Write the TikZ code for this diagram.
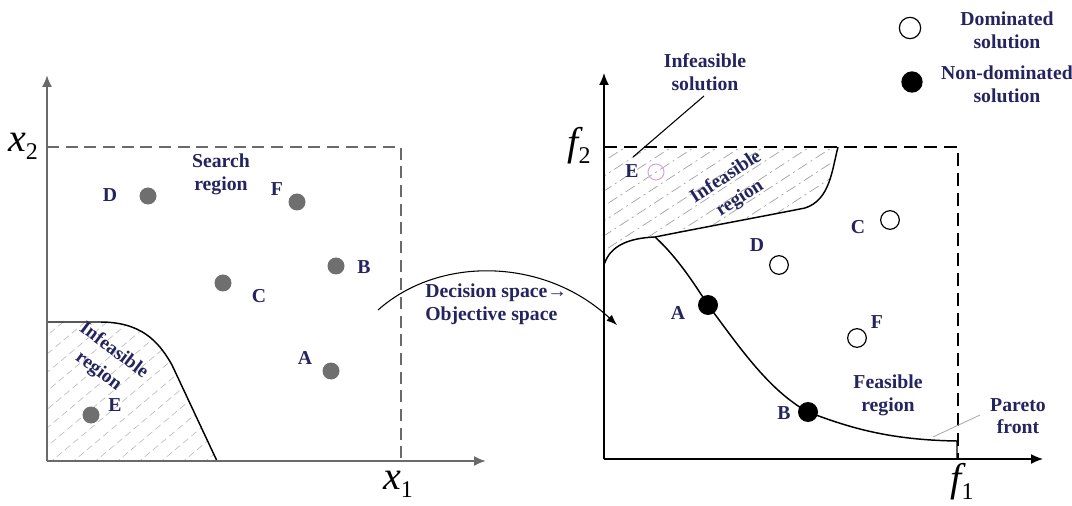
\documentclass[tikz,border=0pt]{standalone}
\usepackage{fontspec}
\setmainfont{Liberation Serif}
\usetikzlibrary{arrows.meta}
\definecolor{navy}{HTML}{24245E}
\definecolor{dotgray}{HTML}{6F6F6F}
\definecolor{axgray}{HTML}{6A6A6A}
\definecolor{pinkc}{HTML}{D8A6E2}
\newcommand{\axl}[2]{{\fontsize{30}{30}\selectfont\itshape #1}\raisebox{-6pt}{\fontsize{18}{18}\selectfont #2}}
\begin{document}
\begin{tikzpicture}[x=0.75pt,y=-0.75pt,
  lbl/.style={font=\fontsize{14.8}{17}\selectfont\bfseries, text=navy, inner sep=0pt, align=center},
  rlbl/.style={font=\fontsize{14.5}{19}\selectfont\bfseries, text=navy, inner sep=0pt, align=center},
  axlab/.style={inner sep=0pt, text=black},
  gdot/.style={circle, fill=dotgray, minimum size=12.75pt, inner sep=0pt},
  odot/.style={circle, draw=black, line width=0.9pt, fill=white, minimum size=14pt, inner sep=0pt},
  bdot/.style={circle, fill=black, minimum size=15pt, inner sep=0pt},
  axisL/.style={draw=axgray, line width=1.5pt, -{Latex[length=9pt,width=7.5pt]}},
  axisR/.style={draw=black, line width=1.1pt, -{Latex[length=9pt,width=7.5pt]}},
  dashL/.style={draw=axgray, line width=1.2pt, dash pattern=on 9pt off 5pt},
  dashR/.style={draw=black, line width=1pt, dash pattern=on 10pt off 5pt},
  hatchL/.style={draw=gray!55, line width=0.45pt, dash pattern=on 5pt off 3pt},
  hatchR/.style={draw=gray!70, line width=0.55pt, dash pattern=on 8pt off 3pt on 1.5pt off 3pt},
  bound/.style={draw=black, line width=1.1pt},
  thinline/.style={draw=black, line width=0.8pt},
]
\useasboundingbox (0,0) rectangle (1072,506);

% ---------------- left panel ----------------
\begin{scope}
\clip (47,461) -- (47,322) -- (100,322) .. controls (140,322) and (158,340) .. (172,365) -- (217,461) -- cycle;
\foreach \i in {0,...,18} \draw[hatchL] (-160+\i*22, 491) -- ++(300,-252);
\end{scope}
\draw[bound] (47,322) -- (100,322) .. controls (140,322) and (158,340) .. (172,365) -- (217,461);

\coordinate (O1) at (47,461);
\coordinate (Y1) at (47,75);
\coordinate (X1) at (486,461);
\draw[dashL] (47,147) -- (401,147) -- (401,461);
\draw[axisL] (O1) -- (Y1);
\draw[axisL] (O1) -- (X1);
\node[axlab] (lx2) at (23,146) {\axl{x}{2}};
\node[axlab] (lx1) at (398,484) {\axl{x}{1}};

\node[gdot] (lD) at (148,196) {};
\node[gdot] (lF) at (297,202) {};
\node[gdot] (lB) at (336,266) {};
\node[gdot] (lC) at (223,283) {};
\node[gdot] (lA) at (331,371) {};
\node[gdot] (lE) at (91,415) {};

\node[lbl] (tlD) at (110,195) {D};
\node[lbl] (tlF) at (277,189) {F};
\node[lbl] (tlB) at (364,267) {B};
\node[lbl] (tlC) at (259,296) {C};
\node[lbl] (tlA) at (305,358) {A};
\node[lbl] (tlE) at (115,405) {E};
\node[lbl] (search) at (221,174) {Search\\region};
\node[rlbl, rotate=-37] (infL) at (106,361) {Infeasible\\region};

% ---------------- transition arrow ----------------
\coordinate (arS) at (378,310);
\coordinate (arE) at (617,325);
\draw[line width=0.8pt, -{Latex[length=8pt,width=6pt]}] (arS) .. controls (440,255) and (545,258) .. (arE);
\node[lbl, align=left, anchor=west] (dec) at (425,304) {Decision space→\\Objective space};

% ---------------- right panel ----------------
\begin{scope}
\clip (604,147) -- (838,147) .. controls (832,170) and (830,200) .. (805,208) .. controls (770,215) and (700,228) .. (655,237) .. controls (630,238) and (610,245) .. (604,265) -- cycle;
\foreach \i in {0,...,20} \draw[hatchR] (395+\i*23, 282) -- ++(400,-260);
\end{scope}

\coordinate (O2) at (604,459);
\coordinate (Y2) at (604,73);
\coordinate (X2) at (1043,459);
\draw[dashR] (604,147) -- (958,147) -- (958,459);
\draw[axisR] (O2) -- (Y2);
\draw[axisR] (O2) -- (X2);
\node[axlab] (lf2) at (579,146) {\axl{f}{2}};
\node[axlab] (lf1) at (962,482) {\axl{f}{1}};

\draw[bound] (604,265) .. controls (610,245) and (630,238) .. (655,237) .. controls (700,228) and (770,215) .. (805,208) .. controls (830,200) and (832,170) .. (838,147);

\node[bdot] (rA) at (708,305) {};
\node[bdot] (rB) at (808,412) {};
\draw[bound] (655,237) .. controls (678,258) and (695,285) .. (rA.center) .. controls (738,345) and (768,390) .. (rB.center) .. controls (850,428) and (890,440) .. (957,441) -- (957,459);

\node[odot] (rD) at (779,265) {};
\node[odot] (rC) at (890,220) {};
\node[odot] (rF) at (857,338) {};
\node[circle, draw=pinkc, line width=0.8pt, minimum size=12pt, inner sep=0pt] (rE) at (656,172) {};

\node[lbl] (trE) at (632,171) {E};
\node[lbl] (trD) at (757,245) {D};
\node[lbl] (trC) at (858,227) {C};
\node[lbl] (trF) at (877,322) {F};
\node[lbl] (trA) at (678,313) {A};
\node[lbl] (trB) at (784,413) {B};
\node[lbl] (feas) at (888,395) {Feasible\\region};
\node[lbl] (pareto) at (1018,416) {Pareto\\front};
\node[rlbl, rotate=33] (infR) at (733,188) {Infeasible\\region};

\coordinate (pfA) at (980,415);
\coordinate (pfB) at (933,437);
\draw[draw=gray!70, line width=0.6pt] (pfA) -- (pfB);

\node[lbl] (isol) at (705,72) {Infeasible\\solution};
\coordinate (isA) at (704,96);
\coordinate (isB) at (633,157);
\draw[thinline] (isA) -- (isB);

% legend
\node[odot, minimum size=16pt] (legO) at (910,28) {};
\node[bdot, minimum size=16pt] (legB) at (912,82) {};
\node[lbl] (legOt) at (1007,30) {Dominated\\solution};
\node[lbl] (legBt) at (1007,84) {Non-dominated\\solution};
\end{tikzpicture}
\end{document}
